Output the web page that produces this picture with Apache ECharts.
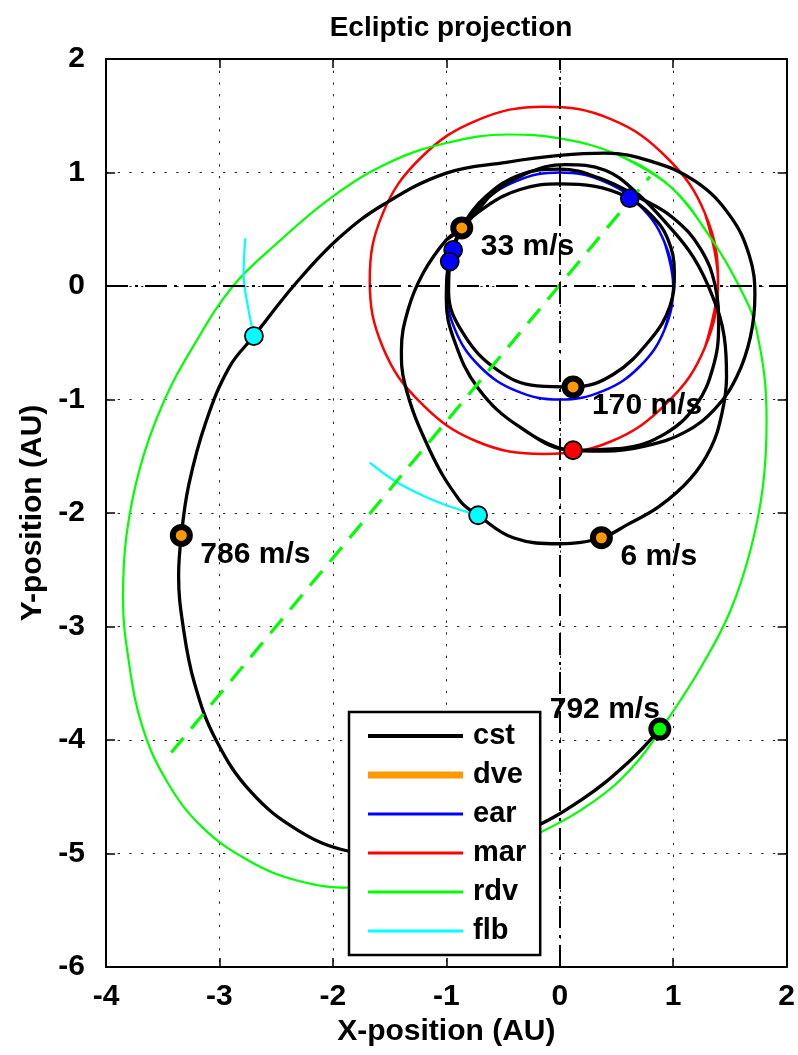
<!DOCTYPE html>
<html>
<head>
<meta charset="utf-8">
<script src="https://cdn.jsdelivr.net/npm/echarts@6/dist/echarts.min.js"></script>
<style>
  html, body { margin: 0; padding: 0; background: #fff; }
  #chart { width: 798px; height: 1055px; }
</style>
</head>
<body>
<div id="chart"></div>
<script>
// orbits (AU)
var earOrbit = [[0.924,-0.383],[1,0],[0.924,0.383],[0.707,0.707],[0.383,0.924],[0,1],[-0.383,0.924],[-0.707,0.707],[-0.924,0.383],[-1,0],[-0.924,-0.383],[-0.707,-0.707],[-0.383,-0.924],[0,-1],[0.383,-0.924],[0.707,-0.707],[0.924,-0.383],[1,0],[0.924,0.383]];
var marOrbit = [[1.28,-0.54],[1.395,0.05],[1.28,0.64],[0.945,1.13],[0.45,1.47],[-0.14,1.58],[-0.73,1.46],[-1.225,1.13],[-1.56,0.64],[-1.675,0.05],[-1.56,-0.54],[-1.225,-1.03],[-0.73,-1.37],[-0.14,-1.48],[0.45,-1.37],[0.945,-1.03],[1.28,-0.54],[1.395,0.05],[1.28,0.64]];
var rdvOrbit = [[1.32,0.44],[0.97,0.88],[0.5,1.16],[0,1.30],[-0.45,1.335],[-1.0,1.26],[-1.5,1.09],[-2.0,0.79],[-2.5,0.37],[-2.88,0.0],[-3.23,-0.53],[-3.5,-1.04],[-3.7,-1.6],[-3.82,-2.2],[-3.85,-2.75],[-3.8,-3.3],[-3.68,-3.88],[-3.46,-4.37],[-3.15,-4.77],[-2.73,-5.07],[-2.29,-5.245],[-1.85,-5.30],[-1.35,-5.25],[-0.8,-5.1],[-0.2,-4.83],[0.3,-4.54],[0.65,-4.23],[0.95,-3.82],[1.25,-3.35],[1.5,-2.87],[1.68,-2.33],[1.79,-1.77],[1.823,-1.18],[1.735,-0.39],[1.58,0.0],[1.32,0.44],[0.97,0.88],[0.5,1.16]];
var rdvApsides = [[-3.424,-4.11],[0.794,0.965]];

// coast arcs
var cstArcLong = [[0.882,-3.904],[0.6,-4.2],[0.2,-4.52],[-0.3,-4.8],[-0.85,-4.97],[-1.4,-5.02],[-1.867,-4.978],[-2.3,-4.8],[-2.72,-4.46],[-3.03,-4.0],[-3.22,-3.5],[-3.32,-3.0],[-3.36,-2.55],[-3.336,-2.198],[-3.27,-1.75],[-3.12,-1.2],[-2.91,-0.71],[-2.696,-0.441],[-2.33,0.02],[-1.95,0.42],[-1.55,0.72],[-1.0,0.995],[-0.47,1.09],[0,1.15],[0.4,1.17],[0.8,1.1],[1.2,0.92],[1.5,0.62],[1.67,0.27],[1.72,-0.08],[1.68,-0.45],[1.56,-0.8],[1.37,-1.08],[1.1,-1.29],[0.75,-1.41],[0.4,-1.455],[0.117,-1.447]];
var cstLoopOuter = [[-1.0,0.406],[-0.864,0.512],[-0.63,0.78],[-0.3,0.99],[0.05,1.07],[0.4,1.02],[0.68,0.82],[0.95,0.54],[1.18,0.25],[1.35,-0.1],[1.45,-0.45],[1.47,-0.8],[1.43,-1.12],[1.33,-1.43],[1.15,-1.7],[0.88,-1.94],[0.6,-2.1],[0.367,-2.218],[0,-2.271],[-0.41,-2.218],[-0.72,-2.02],[-0.882,-1.889],[-1.146,-1.447],[-1.367,-0.859],[-1.396,-0.565],[-1.338,-0.212],[-1.205,0.112],[-1.0,0.406],[-0.864,0.512],[-0.63,0.78]];
var cstLoopMid = [[-0.353,-1.242],[0.117,-1.447],[0.55,-1.43],[0.93,-1.3],[1.2,-1.05],[1.35,-0.72],[1.40,-0.35],[1.37,0.0],[1.24,0.33],[1.0,0.6],[0.7,0.78],[0.35,0.95],[0,1.03],[-0.35,0.98],[-0.65,0.79],[-0.86,0.52],[-0.97,0.22],[-1.0,-0.124],[-0.93,-0.48],[-0.72,-0.9],[-0.353,-1.242],[0.117,-1.447],[0.55,-1.43]];
var cstLoopInner = [[-0.86,0.5],[-0.97,0.215],[-0.98,-0.05],[-0.85,-0.42],[-0.55,-0.74],[-0.2,-0.88],[0.117,-0.889],[0.47,-0.78],[0.8,-0.47],[0.97,-0.18],[1.01,0.12],[0.95,0.42],[0.8,0.63],[0.6,0.78],[0.3,0.88],[0,0.9],[-0.35,0.85],[-0.65,0.7],[-0.86,0.5],[-0.97,0.215],[-0.98,-0.05]];

// fly-by arcs
var flbArcA = [[-2.772,0.421],[-2.787,0.112],[-2.749,-0.182],[-2.696,-0.441]];
var flbArcB = [[-1.675,-1.556],[-1.45,-1.72],[-1.2,-1.85],[-0.95,-1.95],[-0.72,-2.02]];

// event markers
var dvePoints = [[-0.864,0.512],[0.117,-0.889],[-3.336,-2.198],[0.367,-2.218]];
var dveLabels = ['33 m/s', '170 m/s', '786 m/s', '6 m/s'];
var earPoints = [[-0.94,0.318],[-0.97,0.215],[0.617,0.774]];
var marPoints = [[0.117,-1.447]];
var flbPoints = [[-2.696,-0.441],[-0.72,-2.02]];
var rdvPoints = [[0.882,-3.904]];
var rdvLabels = ['792 m/s'];

var FONT = 'Liberation Sans, Arial, sans-serif';
var chart = echarts.init(document.getElementById('chart'));

function curve(name, data, color, width) {
  return {
    name: name, type: 'line', data: data, symbol: 'none', smooth: 0.4,
    lineStyle: { color: color, width: width }, silent: true
  };
}
function dots(name, data, color, size, border, z) {
  return {
    name: name, type: 'scatter', data: data, symbolSize: size, z: z,
    itemStyle: { color: color, borderColor: '#000', borderWidth: border, opacity: 1 }
  };
}
function withLabels(series, texts, align, offset) {
  series.data = series.data.map(function (p, i) {
    return { value: p, label: { show: true, formatter: texts[i] } };
  });
  series.label = {
    position: 'inside', align: align, verticalAlign: 'middle', offset: offset,
    color: '#000', fontSize: 30, fontWeight: 'bold', fontFamily: FONT
  };
  return series;
}

var series = [
  {
    type: 'line', data: [], silent: true, z: 1,
    markLine: {
      silent: true, symbol: 'none', label: { show: false },
      lineStyle: { color: '#000', width: 2, type: [22, 7, 3, 7] },
      data: [{ xAxis: 0 }, { yAxis: 0 }]
    }
  },
  curve('ear', earOrbit, '#0000ff', 2.5),
  curve('mar', marOrbit, '#ff0000', 2.5),
  curve('rdv', rdvOrbit, '#00ff00', 2.2),
  curve('cst', cstArcLong, '#000', 3.3),
  curve('cst', cstLoopOuter, '#000', 3.3),
  curve('cst', cstLoopMid, '#000', 3.3),
  curve('cst', cstLoopInner, '#000', 3.3),
  curve('flb', flbArcA, '#00ffff', 2.2),
  curve('flb', flbArcB, '#00ffff', 2.2),
  {
    name: 'rdv', type: 'line', data: rdvApsides, symbol: 'none', silent: true,
    lineStyle: { color: '#00ff00', width: 3.2, type: [19, 12] }
  },
  dots('ear', earPoints, '#0000ff', 18, 1.8, 5),
  dots('mar', marPoints, '#ff0000', 18, 1.8, 5),
  dots('flb', flbPoints, '#00ffff', 18, 1.8, 5),
  withLabels(dots('rdv', rdvPoints, '#00ff00', 18, 5, 6), rdvLabels, 'right', [0, -19]),
  withLabels(dots('dve', dvePoints, '#ff9900', 17, 6, 6), dveLabels, 'left', [19, 19])
];

function legendItem(name, color, thick) {
  return {
    name: name, icon: 'path://M0,0H95V' + thick + 'H0Z',
    itemStyle: { color: color, borderWidth: 0 }
  };
}

var axisText = { color: '#000', fontSize: 30, fontWeight: 'bold', fontFamily: FONT };
var spine = { show: true, onZero: false, lineStyle: { color: '#000', width: 2 } };
var ticks = { show: true, inside: true, length: 9, lineStyle: { color: '#000', width: 1.5 } };
var dotted = { show: true, lineStyle: { color: '#222', width: 1, type: [2.3, 9.4] } };

var option = {
  animation: false,
  backgroundColor: '#fff',
  title: {
    text: 'Ecliptic projection', left: 446, top: 9, textAlign: 'center',
    textStyle: { color: '#000', fontSize: 28, fontWeight: 'bold', fontFamily: FONT }
  },
  grid: { left: 106, right: 11, top: 59, bottom: 88 },
  legend: {
    orient: 'vertical', left: 349, top: 712,
    padding: [9, 14, 9, 19],
    itemWidth: 95, itemHeight: 30, itemGap: 9,
    backgroundColor: '#fff', borderColor: '#000', borderWidth: 2.5,
    selectedMode: false,
    textStyle: { color: '#000', fontSize: 29, fontWeight: 'bold', fontFamily: FONT, lineHeight: 30, padding: [0, 0, 0, 5] },
    data: [
      legendItem('cst', '#000', 4),
      legendItem('dve', '#ff9900', 7),
      legendItem('ear', '#0000ff', 3),
      legendItem('mar', '#ff0000', 3),
      legendItem('rdv', '#00ff00', 3),
      legendItem('flb', '#00ffff', 3)
    ]
  },
  xAxis: [
    {
      type: 'value', min: -4, max: 2, interval: 1, position: 'bottom',
      axisLine: spine, axisTick: ticks, splitLine: dotted,
      axisLabel: Object.assign({ margin: 15 }, axisText),
      name: 'X-position (AU)', nameLocation: 'middle', nameGap: 46, nameTextStyle: axisText
    },
    {
      type: 'value', min: -4, max: 2, interval: 1, position: 'top',
      axisLine: spine, axisTick: ticks, splitLine: { show: false }, axisLabel: { show: false }
    }
  ],
  yAxis: [
    {
      type: 'value', min: -6, max: 2, interval: 1, position: 'left',
      axisLine: spine, axisTick: ticks, splitLine: dotted,
      axisLabel: Object.assign({ margin: 21 }, axisText),
      name: 'Y-position (AU)', nameLocation: 'middle', nameGap: 58, nameRotate: 90, nameTextStyle: axisText
    },
    {
      type: 'value', min: -6, max: 2, interval: 1, position: 'right',
      axisLine: spine, axisTick: ticks, splitLine: { show: false }, axisLabel: { show: false }
    }
  ],
  series: series
};
option && chart.setOption(option);
</script>
</body>
</html>
